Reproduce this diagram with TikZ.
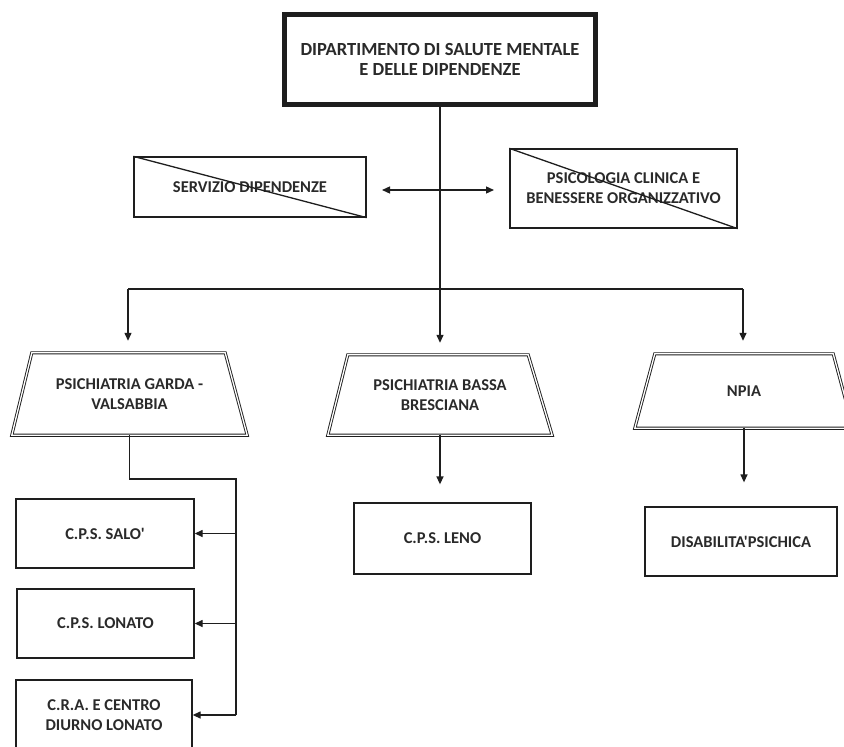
\documentclass[tikz,border=0pt]{standalone}
\usepackage{fontspec}
\setmainfont{Carlito}[Ligatures=TeXOff]
\usetikzlibrary{arrows.meta}
\definecolor{linec}{HTML}{1E1E1E}
\definecolor{txt}{HTML}{2A2A2A}
\begin{document}
\begin{tikzpicture}[x=1pt,y=-1pt,
  lbl/.style={inner sep=0pt, align=center, text=txt, font=\fontsize{16.5}{20}\selectfont\bfseries},
  box/.style={lbl, draw=linec, line width=1.3pt},
  topbox/.style={lbl, draw=linec, line width=5pt, font=\fontsize{18.5}{20.5}\selectfont\bfseries},
  trapnode/.style={lbl},
  trap/.style={draw=linec, double=white, line width=0.9pt, double distance=1.3pt, line join=miter},
  conn/.style={draw=linec, line width=1.3pt},
  arr/.style={conn, -{Triangle[length=8pt,width=7pt]}},
  dblarr/.style={conn, {Triangle[length=8pt,width=7pt]}-{Triangle[length=8pt,width=7pt]}}
]
\useasboundingbox[fill=white] (0,0) rectangle (844,747);

% top box
\node[topbox, minimum width=311pt, minimum height=90pt] (top) at (440,59.5)
  {DIPARTIMENTO DI SALUTE MENTALE\\E DELLE DIPENDENZE};

% side boxes
\node[box, minimum width=232pt, minimum height=60pt] (serv) at (250,187) {SERVIZIO DIPENDENZE};
\draw[conn] (serv.north west) -- (serv.south east);
\node[box, minimum width=227pt, minimum height=79pt] (psi) at (623.5,188.5)
  {PSICOLOGIA CLINICA E\\BENESSERE ORGANIZZATIVO};
\draw[conn] (psi.north west) -- (psi.south east);

% trapezoid nodes
\node[trapnode, minimum width=235pt, minimum height=82pt] (t1) at (129.5,394)
  {PSICHIATRIA GARDA -\\VALSABBIA};
\draw[trap] ([xshift=20pt]t1.north west) -- ([xshift=-22pt]t1.north east)
  -- (t1.south east) -- (t1.south west) -- cycle;
\node[trapnode, minimum width=224pt, minimum height=80pt] (t2) at (440,395)
  {PSICHIATRIA BASSA\\BRESCIANA};
\draw[trap] ([xshift=20pt]t2.north west) -- ([xshift=-24pt]t2.north east)
  -- (t2.south east) -- (t2.south west) -- cycle;
\node[trapnode, minimum width=218pt, minimum height=74pt] (t3) at (744,391) {NPIA};
\draw[trap] ([xshift=20pt]t3.north west) -- ([xshift=-20pt]t3.north east)
  -- (t3.south east) -- (t3.south west) -- cycle;

% bottom boxes
\node[box, minimum width=178pt, minimum height=69pt] (salo) at (105,533.5) {C.P.S. SALO'};
\node[box, minimum width=177pt, minimum height=69pt] (lonato) at (105.5,623.5) {C.P.S. LONATO};
\node[box, minimum width=176pt, minimum height=70pt] (cra) at (104,715) {C.R.A. E CENTRO\\DIURNO LONATO};
\node[box, minimum width=177pt, minimum height=71pt] (leno) at (442.5,538.5) {C.P.S. LENO};
\node[box, minimum width=192pt, minimum height=69pt] (dis) at (741,541.5) {DISABILITA'PSICHICA};

% main connectors
\coordinate (hl) at (128,289);
\coordinate (hr) at (743,289);
\coordinate (dl) at (382,190);
\coordinate (dr) at (494,190);
\draw[arr, shorten >=12pt] (top.south) -- (t2.north);
\draw[conn] (hl) -- (hr);
\draw[arr, shorten >=12pt] (hl) -- (hl |- t1.north);
\draw[arr, shorten >=13pt] (hr) -- (hr |- t3.north);
\draw[dblarr] (dl) -- (dr);

% lower connectors
\coordinate (bus) at (236,479);
\draw[conn] (t1.south) |- (bus) -- (bus |- cra.east);
\draw[arr] (bus |- salo.east) -- (salo.east);
\draw[arr] (bus |- lonato.east) -- (lonato.east);
\draw[arr] (bus |- cra.east) -- (cra.east);
\draw[arr, shorten >=18pt] (t2.south) -- (t2.south |- leno.north);
\draw[arr, shorten >=24pt] (t3.south) -- (t3.south |- dis.north);
\end{tikzpicture}
\end{document}
